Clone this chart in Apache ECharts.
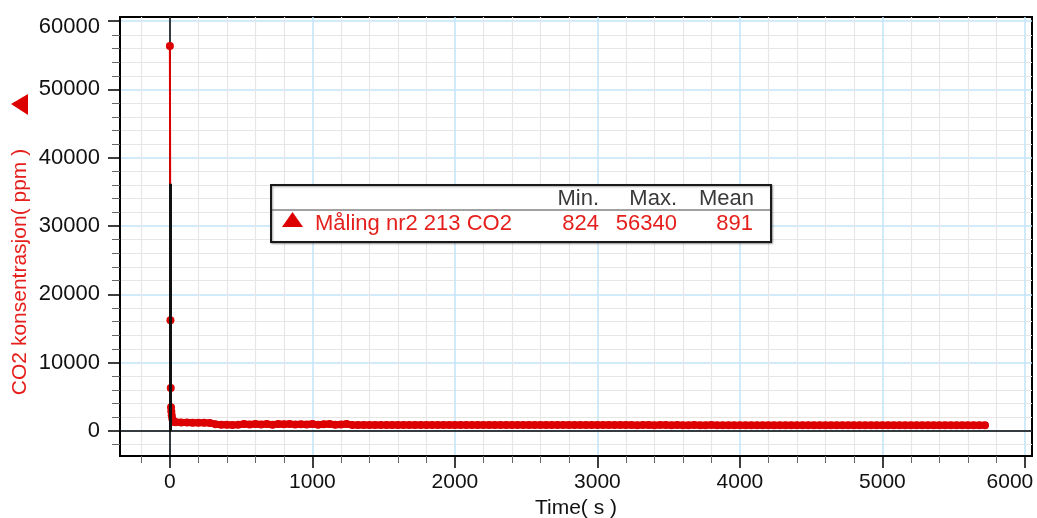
<!DOCTYPE html>
<html><head><meta charset="utf-8">
<script src="https://cdn.jsdelivr.net/npm/echarts@6/dist/echarts.min.js"></script>
<style>html,body{margin:0;padding:0;background:#fff}#c{width:1037px;height:518px}</style>
</head><body><div id="c"></div>
<script>
// ---- data ----
const seriesName = 'Måling nr2 213 CO2';
const xAxisName = 'Time( s )';
const yAxisName = 'CO2 konsentrasjon( ppm )';
const xTickValues = [0, 1000, 2000, 3000, 4000, 5000, 6000];
const yTickValues = [0, 10000, 20000, 30000, 40000, 50000, 60000];
const statHeaders = ['Min.', 'Max.', 'Mean'];
const statValues = [824, 56340, 891];
const startTimes = [0, 4, 6, 8, 10, 13, 17, 22, 28];
const startCO2 = [56340, 16200, 6300, 3500, 2900, 2300, 1800, 1500, 1350];
const zeroSegmentTop = 36200;
const sampleStart = 40, sampleStep = 40;
const steadyCO2 = [
  1290, 1260, 1240, 1230, 1210, 1200, 1190,
  1010, 935, 915, 905, 940, 1020, 950, 1035, 965, 1045, 925, 1025, 985, 1050, 945, 1015, 960, 1040, 935, 990, 1025, 915, 955, 1030,
  905, 898, 893, 896, 890, 887, 892, 889, 885, 891,
  886, 883, 888, 884, 881, 887, 883, 880, 885, 882,
  879, 884, 880, 877, 883, 879, 876, 881, 878, 875,
  880, 877, 874, 879, 876, 873, 878, 875, 872, 877,
  874, 871, 876, 873, 870, 875, 872, 869, 874, 871,
  868, 873, 870, 867, 872, 869, 866, 871, 868, 865,
  870, 867, 864, 869, 866, 863, 868, 865, 862, 867,
  864, 861, 866, 863, 860, 865, 862, 859, 864, 861,
  858, 863, 860, 857, 862, 859, 856, 861, 858, 855,
  860, 857, 854, 859, 856, 853, 858, 855, 852, 857,
  854, 851, 856, 853, 850, 855, 852, 849, 854, 851,
  848, 852
];

// ---- build ----
const FONT = 'Liberation Sans, Arial, Helvetica, sans-serif';
const RED = '#dd0000';
const TXT_RED = '#e5201c';
const earlyPoints = startTimes.map((t, i) => [t, startCO2[i]]);
const steadyPoints = [earlyPoints[earlyPoints.length - 1]]
  .concat(steadyCO2.map((v, i) => [sampleStart + i * sampleStep, v]));

const chart = echarts.init(document.getElementById('c'), null, {renderer: 'canvas'});

const lastX = xTickValues[xTickValues.length - 1];
const lastY = yTickValues[yTickValues.length - 1];

const option = {
  animation: false,
  backgroundColor: '#fff',
  grid: {left: 120, right: 5, top: 17, bottom: 62, containLabel: false, outerBoundsMode: 'none',
         show: true, borderColor: '#000', borderWidth: 2, backgroundColor: 'transparent'},
  xAxis: {
    type: 'value', min: -350, max: 6050, splitNumber: 6, minInterval: 1000, maxInterval: 1000,
    axisLine: {show: true, onZero: false, lineStyle: {color: '#000', width: 2}},
    axisTick: {show: true, inside: false, length: 12, customValues: xTickValues, lineStyle: {color: '#000', width: 1.5}},
    minorTick: {show: true, splitNumber: 5, length: 7, lineStyle: {color: '#666', width: 1}},
    axisLabel: {
      customValues: xTickValues, margin: 16, fontSize: 21, color: '#111', fontFamily: FONT,
      formatter: v => v === lastX ? '{r|' + v + '}' : String(v),
      rich: {r: {fontSize: 21, color: '#111', fontFamily: FONT, padding: [0, 30, 0, 0]}}
    },
    splitLine: {show: true, lineStyle: {color: '#c3e5f8', width: 1.5}},
    minorSplitLine: {show: true, lineStyle: {color: '#e6e6e6', width: 1.2}},
    name: xAxisName, nameLocation: 'middle', nameGap: 38,
    nameTextStyle: {fontSize: 21, color: '#111', fontFamily: FONT}
  },
  yAxis: {
    type: 'value', min: -3650, max: 60600, splitNumber: 6, minInterval: 10000, maxInterval: 10000,
    axisLine: {show: true, onZero: false, lineStyle: {color: '#000', width: 2}},
    axisTick: {show: true, inside: false, length: 12, customValues: yTickValues, lineStyle: {color: '#000', width: 1.5}},
    minorTick: {show: true, splitNumber: 5, length: 8, lineStyle: {color: '#666', width: 1}},
    axisLabel: {
      customValues: yTickValues, margin: 20, fontSize: 22, color: '#111', fontFamily: FONT,
      formatter: v => v === lastY ? '{t|' + v + '}' : String(v),
      rich: {t: {fontSize: 22, color: '#111', fontFamily: FONT, padding: [12, 0, 0, 0]}}
    },
    splitLine: {show: true, lineStyle: {color: '#c3e5f8', width: 1.5}},
    minorSplitLine: {show: true, lineStyle: {color: '#e6e6e6', width: 1.2}}
  },
  series: [
    {
      type: 'line', data: [], z: 1, silent: true,
      markLine: {
        z: 1, silent: true, symbol: 'none', label: {show: false}, animation: false,
        lineStyle: {color: '#000', width: 1.5, type: 'solid'},
        data: [{yAxis: 0}, {xAxis: 0}]
      }
    },
    {
      name: seriesName, type: 'line', z: 2, data: earlyPoints,
      symbol: 'circle', symbolSize: 8, showAllSymbol: true, sampling: null,
      lineStyle: {color: RED, width: 2}, itemStyle: {color: RED},
      emphasis: {disabled: true}
    },
    {
      name: seriesName, type: 'line', z: 2, data: steadyPoints,
      symbol: 'circle', symbolSize: 8, showAllSymbol: true, sampling: null,
      lineStyle: {color: RED, width: 7, cap: 'round', join: 'round'}, itemStyle: {color: RED},
      emphasis: {disabled: true}
    },
    {
      type: 'line', data: [], z: 3, silent: true,
      markLine: {
        z: 3, silent: true, symbol: 'none', label: {show: false}, animation: false,
        lineStyle: {color: '#111', width: 3, type: 'solid'},
        data: [[{coord: [0, 0]}, {coord: [0, zeroSegmentTop]}]]
      }
    }
  ],
  graphic: [
    {type: 'text', x: 20, y: 272, rotation: Math.PI / 2,
     style: {text: yAxisName, fill: TXT_RED, font: '21px ' + FONT, align: 'center', verticalAlign: 'middle'}},
    {type: 'polygon', shape: {points: [[11, 104], [28, 94], [28, 115]]}, style: {fill: RED}},
    {type: 'rect', shape: {x: 271, y: 185, width: 500, height: 57},
     style: {fill: '#fff', stroke: '#1a1a1a', lineWidth: 2, shadowColor: 'rgba(0,0,0,0.35)', shadowBlur: 2, shadowOffsetX: 1, shadowOffsetY: 1}, z: 100},
    {type: 'line', shape: {x1: 272, y1: 210, x2: 770, y2: 210}, style: {stroke: '#444', lineWidth: 1}, z: 101},
    {type: 'polygon', shape: {points: [[282, 227], [292.5, 212], [303, 227]]}, style: {fill: RED}, z: 101},
    {type: 'text', x: 315, y: 224, z: 101,
     style: {text: seriesName, fill: TXT_RED, font: '22px ' + FONT, align: 'left', verticalAlign: 'middle'}}
  ].concat(statHeaders.map((h, i) => ({
    type: 'text', x: [599, 677, 754][i], y: 199, z: 101,
    style: {text: h, fill: '#3a3a3a', font: '22px ' + FONT, align: 'right', verticalAlign: 'middle'}
  }))).concat(statValues.map((v, i) => ({
    type: 'text', x: [599, 677, 753][i], y: 224, z: 101,
    style: {text: String(v), fill: TXT_RED, font: '22px ' + FONT, align: 'right', verticalAlign: 'middle'}
  })))
};
chart.setOption(option);
</script>
</body></html>
